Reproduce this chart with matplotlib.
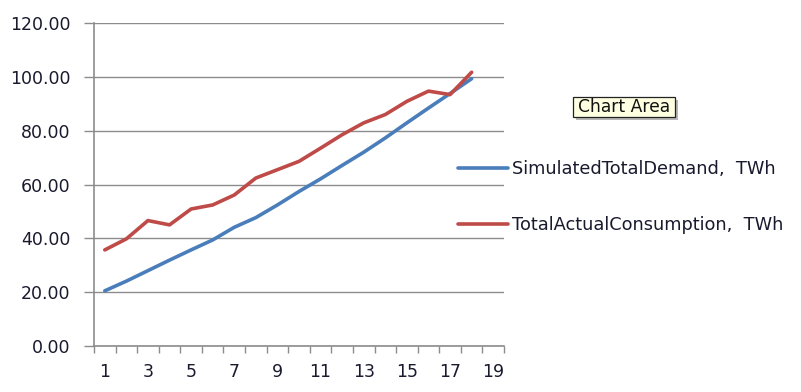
import matplotlib
matplotlib.use("Agg")
import matplotlib.pyplot as plt
from matplotlib.patches import Rectangle
import numpy as np

categories = list(range(1, 19))
simulated = [20.5, 24.1, 28.0, 31.9, 35.7, 39.4, 44.1, 47.7, 52.4, 57.4, 62.1, 67.1, 72.0, 77.3, 82.9, 88.4, 93.8, 99.3]
actual = [35.7, 39.8, 46.6, 45.0, 50.9, 52.4, 56.1, 62.4, 65.5, 68.6, 73.5, 78.5, 82.9, 86.0, 90.9, 94.7, 93.4, 101.7]
labels = ["SimulatedTotalDemand,  TWh", "TotalActualConsumption,  TWh"]
yticks = [0, 20, 40, 60, 80, 100, 120]
xtick_labels = [1, 3, 5, 7, 9, 11, 13, 15, 17, 19]

W, H = 801, 392
fig = plt.figure(figsize=(8.01, 3.92), dpi=100)
ax = fig.add_axes([94/W, 46/H, 410/W, 323/H])

txtc = "#1a1a2e"
grid_c = "#8c8c8c"
l1, = ax.plot(categories, simulated, color="#4a7ebb", lw=2.6, solid_capstyle="round")
l2, = ax.plot(categories, actual, color="#be4b48", lw=2.6, solid_capstyle="round")

ax.set_xlim(0.5, 19.5)
ax.set_ylim(0, 120)
ax.set_yticks(yticks)
ax.set_yticklabels([f"{v:.2f}" for v in yticks], fontsize=12.5, color=txtc)
ax.set_xticks(xtick_labels)
ax.set_xticklabels([str(v) for v in xtick_labels], fontsize=12.5, color=txtc)
ax.set_xticks(np.arange(0.5, 20.0, 1.0), minor=True)
ax.tick_params(axis="x", which="major", length=0, pad=12)
ax.tick_params(axis="x", which="minor", length=5, color=grid_c, width=1)
ax.tick_params(axis="y", length=7, color=grid_c, width=1, pad=10)
ax.grid(axis="y", color=grid_c, lw=1)
ax.set_axisbelow(True)
for s in ["top", "right"]:
    ax.spines[s].set_visible(False)
for s in ["left", "bottom"]:
    ax.spines[s].set_color(grid_c)
    ax.spines[s].set_linewidth(1.2)

fig.legend([l1, l2], labels, loc="upper left", bbox_to_anchor=(458/W, 1 - 160/H),
           frameon=False, fontsize=12.8, handlelength=2.8, handletextpad=0.25,
           labelspacing=2.15, labelcolor=txtc, borderaxespad=0, borderpad=0)

# "Chart Area" tooltip with drop shadow
bx0, by0, bw, bh = 573, 97, 102, 20
fig.patches.append(Rectangle(((bx0 + 3)/W, 1 - (by0 + bh + 3)/H), bw/W, bh/H,
                             transform=fig.transFigure, fc="#b8b8b8", ec="none", zorder=1))
fig.patches.append(Rectangle((bx0/W, 1 - (by0 + bh)/H), bw/W, bh/H,
                             transform=fig.transFigure, fc="#ffffe1", ec="#222222", lw=0.9, zorder=2))
fig.text((bx0 + bw/2)/W, 1 - (by0 + bh/2)/H, "Chart Area", fontsize=12.3, color="#111111",
         ha="center", va="center", zorder=3)

fig.savefig("out.png", dpi=100)
